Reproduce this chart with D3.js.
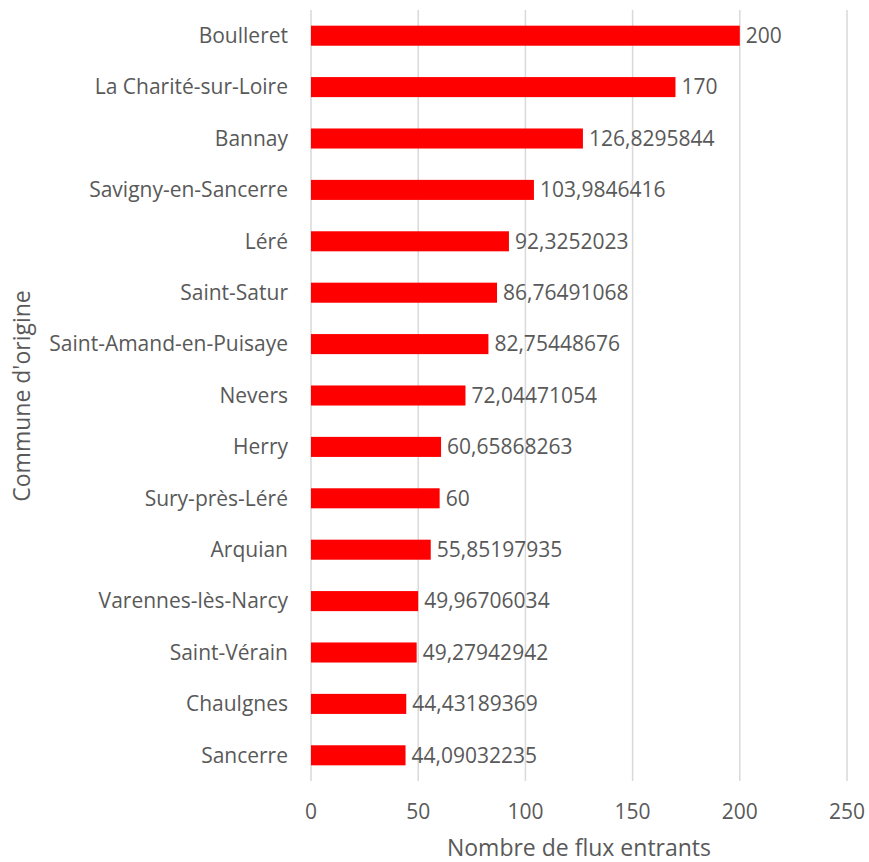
<!DOCTYPE html>
<html>
<head>
<meta charset="utf-8">
<script src="https://cdn.jsdelivr.net/npm/d3@7"></script>
<style>
  body { margin: 0; background: #fff; }
  text { font-family: "Open Sans", sans-serif; fill: #595959; }
</style>
</head>
<body>
<div class="chart"></div>
<script>
let communes = ["Boulleret", "La Charité-sur-Loire", "Bannay", "Savigny-en-Sancerre", "Léré", "Saint-Satur",
	"Saint-Amand-en-Puisaye", "Nevers", "Herry", "Sury-près-Léré", "Arquian", "Varennes-lès-Narcy",
	"Saint-Vérain", "Chaulgnes", "Sancerre"];
let flux = [200, 170, 126.8295844, 103.9846416, 92.3252023, 86.76491068, 82.75448676, 72.04471054,
	60.65868263, 60, 55.85197935, 49.96706034, 49.27942942, 44.43189369, 44.09032235];
let fluxLabels = ["200", "170", "126,8295844", "103,9846416", "92,3252023", "86,76491068", "82,75448676",
	"72,04471054", "60,65868263", "60", "55,85197935", "49,96706034", "49,27942942", "44,43189369", "44,09032235"];
let xTicks = [0, 50, 100, 150, 200, 250];

let width = 869, height = 862;
let svg = d3.select('.chart').append('svg')
	.attr('width', width)
	.attr('height', height);

let x = d3.scaleLinear().domain([0, 250]).range([311, 847]);
let y = d3.scaleBand().domain(communes).range([10, 781]).paddingInner(0.61).paddingOuter(0.305);

// gridlines
svg.append('g')
	.selectAll('line')
	.data(xTicks)
	.join('line')
	.attr('x1', d => x(d))
	.attr('x2', d => x(d))
	.attr('y1', 10)
	.attr('y2', 781)
	.attr('stroke', '#d9d9d9')
	.attr('stroke-width', 1.5);

// bars
svg.append('g')
	.selectAll('rect')
	.data(flux)
	.join('rect')
	.attr('x', x(0))
	.attr('y', (d, i) => y(communes[i]))
	.attr('width', d => x(d) - x(0))
	.attr('height', y.bandwidth())
	.attr('fill', '#ff0000');

// value labels
svg.append('g')
	.selectAll('text')
	.data(flux)
	.join('text')
	.text((d, i) => fluxLabels[i])
	.attr('x', d => x(d) + 6)
	.attr('y', (d, i) => y(communes[i]) + y.bandwidth() / 2)
	.attr('dy', '0.35em')
	.attr('font-size', '21px');

// category labels
svg.append('g')
	.selectAll('text')
	.data(communes)
	.join('text')
	.text(d => d)
	.attr('x', 288)
	.attr('y', d => y(d) + y.bandwidth() / 2)
	.attr('dy', '0.35em')
	.attr('text-anchor', 'end')
	.attr('font-size', '21px');

// x tick labels
svg.append('g')
	.selectAll('text')
	.data(xTicks)
	.join('text')
	.text(d => d)
	.attr('x', d => x(d))
	.attr('y', 812)
	.attr('dy', '0.35em')
	.attr('text-anchor', 'middle')
	.attr('font-size', '21px');

svg.append('text')
	.text('Nombre de flux entrants')
	.attr('x', x(125))
	.attr('y', 848)
	.attr('dy', '0.35em')
	.attr('text-anchor', 'middle')
	.attr('font-size', '23px');

svg.append('text')
	.text("Commune d'origine")
	.attr('transform', 'translate(22,396) rotate(-90)')
	.attr('dy', '0.35em')
	.attr('text-anchor', 'middle')
	.attr('font-size', '23px');
</script>
</body>
</html>
